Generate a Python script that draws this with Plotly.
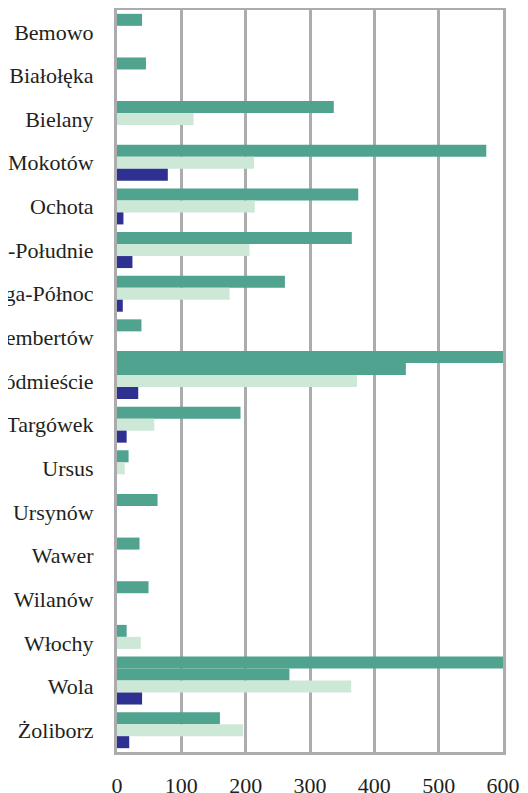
#!/usr/bin/env python3
"""
Warsaw districts - horizontal grouped bars, three series.
Bars longer than the axis wrap onto an extra row above the group.
"""
import plotly.graph_objs as go

districts = ['Bemowo', 'Białołęka', 'Bielany', 'Mokotów', 'Ochota',
             'Praga-Południe', 'Praga-Północ', 'Rembertów', 'Śródmieście',
             'Targówek', 'Ursus', 'Ursynów', 'Wawer', 'Wilanów', 'Włochy',
             'Wola', 'Żoliborz']

# first series (teal); Śródmieście and Wola overflow past 600
series_a = [39, 45, 337, 574, 375, 365, 261, 38, 449,
            192, 18, 63, 35, 49, 15, 268, 160]
# part of the teal bar that runs off the axis (drawn on its own row)
overflow = [None, None, None, None, None, None, None, None, 600,
            None, None, None, None, None, None, 600, None]
series_b = [None, None, 119, 213, 214, 206, 175, None, 373,
            58, 12, None, None, None, 37, 364, 196]
series_c = [None, None, None, 79, 10, 24, 9, None, 33,
            15, None, None, None, None, None, 39, 19]

x_ticks = [0, 100, 200, 300, 400, 500, 600]

colors = {
    'teal': '#4fa38f',
    'light': '#cde8d7',
    'blue': '#2e3192',
    'grid': '#acacaf',
    'text': '#231f20',
}


def make_figure():
    fig = go.Figure()
    slot = 0.275  # bar thickness in category units

    bars = [
        (overflow, colors['teal'], -2.5 * slot),
        (series_a, colors['teal'], -1.5 * slot),
        (series_b, colors['light'], -0.5 * slot),
        (series_c, colors['blue'], 0.5 * slot),
    ]
    for values, color, offset in bars:
        fig.add_trace(go.Bar(x=values, y=districts, orientation='h',
                             marker_color=color, marker_line_width=0,
                             offset=offset, width=slot, showlegend=False))

    # page body has an 8px margin, so the figure is 8px smaller each way
    fig.update_layout(
        width=520, height=785,
        barmode='overlay',
        plot_bgcolor='white', paper_bgcolor='white',
        font=dict(family='Liberation Serif, Times New Roman, serif',
                  size=22, color=colors['text']),
        margin=dict(l=109, r=25, t=2, b=41),
    )
    fig.update_xaxes(range=[0, 600], tickvals=x_ticks, showgrid=True,
                     gridcolor=colors['grid'], gridwidth=3, zeroline=False,
                     showline=True, linecolor=colors['grid'], linewidth=3,
                     mirror=True, ticks='', ticklabelstandoff=12,
                     automargin=False)
    fig.update_yaxes(range=[len(districts) - 0.5, -0.5], showgrid=False,
                     zeroline=False, showline=True,
                     linecolor=colors['grid'], linewidth=3,
                     mirror=True, ticks='', ticklabelstandoff=16,
                     automargin=False)
    return fig


if __name__ == '__main__':
    fig = make_figure()
    fig.write_html("out.html")
